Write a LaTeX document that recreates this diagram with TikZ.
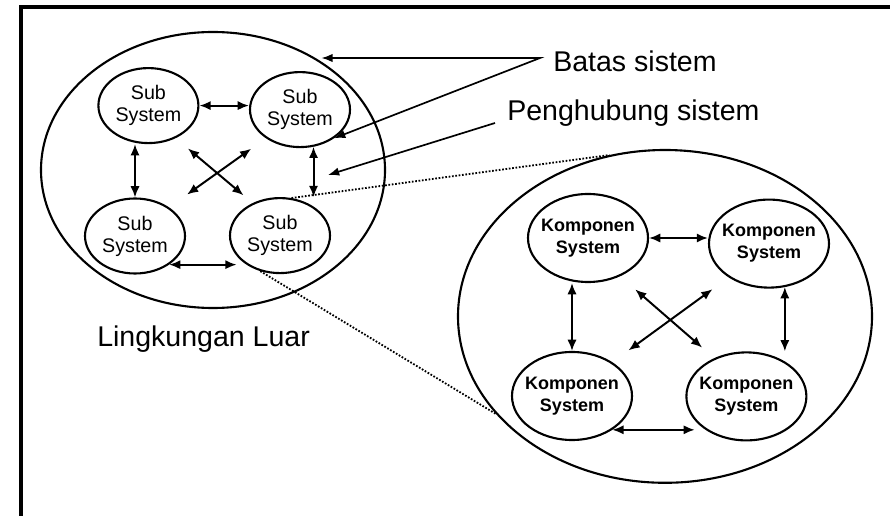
\documentclass[tikz,border=0pt]{standalone}
\usepackage{fontspec}
\setmainfont{Liberation Sans}
\usetikzlibrary{shapes.geometric, arrows.meta}

\begin{document}
\begin{tikzpicture}
  \tikzset{boundary/.style={ellipse, draw, line width=1.5pt, inner sep=0pt}}
  \tikzset{sub/.style={ellipse, draw, line width=1.5pt, minimum width=2.5cm, minimum height=1.875cm, inner sep=0pt, align=center, font=\fontsize{14}{15.6}\selectfont}}
  \tikzset{komp/.style={ellipse, draw, line width=1.5pt, minimum width=3.0cm, minimum height=2.2cm, inner xsep=-3.5pt, inner ysep=0pt, align=center, font=\fontsize{12.8}{15.6}\selectfont\bfseries}}
  \tikzset{ltip/.tip={Latex[length=2.8mm,width=2.3mm]}}
  \tikzset{ptip/.tip={Latex[length=2.8mm,width=2.1mm]}}
  \tikzset{link/.style={ltip-ltip, line width=1.4pt}}
  \tikzset{pointer/.style={line width=1.2pt}}
  \tikzset{zoomline/.style={dash pattern=on 1.2pt off 1.2pt, line width=1.3pt}}
  \tikzset{note/.style={font=\fontsize{20.3}{24}\selectfont, inner sep=0pt}}

  \useasboundingbox (0,0) rectangle (22.25,12.9);
  \clip (0,0) rectangle (22.25,12.9);
  \draw[line width=2.3pt] (0.525,-1) -- (0.525,12.725) -- (23,12.725);

  \node[boundary, minimum width=8.6cm, minimum height=6.9cm] (Sys) at (5.325,8.65) {};
  \node[sub] (Stl) at (3.71,10.26) {Sub\\System};
  \node[sub] (Str) at (7.5,10.16) {Sub\\System};
  \node[sub] (Sbl) at (3.375,7.0) {Sub\\System};
  \node[sub] (Sbr) at (7.0,7.01) {Sub\\System};

  \draw[link] (Stl.east) -- (Stl.east -| Str.west);
  \draw[link] (Sbl.north |- Stl.south) -- (Sbl.north);
  \draw[link] (Str.-70) -- (Str.-70 |- Sbr.north);
  \draw[link] (Sbl.-40) -- (Sbl.-40 -| Sbr.-155);
  \draw[link, shorten <=0.4cm, shorten >=0.3cm] (Stl.-50) -- (Sbr.130);
  \draw[link, shorten <=0.45cm, shorten >=0.55cm] (Str.-140) -- (Sbl.40);

  \node[boundary, minimum width=10.35cm, minimum height=8.32cm] (Komp) at (16.625,4.99) {};
  \node[komp] (Ktl) at (14.7,6.95) {Komponen\\System};
  \node[komp] (Ktr) at (19.225,6.81) {Komponen\\System};
  \node[komp] (Kbl) at (14.3,3.0) {Komponen\\System};
  \node[komp] (Kbr) at (18.66,2.99) {Komponen\\System};

  \draw[link] (Ktl.east) -- (Ktl.east -| Ktr.west);
  \draw[link] (Kbl.north |- Ktl.south) -- (Kbl.north);
  \draw[link] (Ktr.-70) -- (Ktr.-70 |- Kbr.north);
  \draw[link] (Kbl.-40) -- (Kbl.-40 -| Kbr.-155);
  \draw[link, shorten <=0.5cm, shorten >=0.4cm] (Ktl.-50) -- (Kbr.130);
  \draw[link, shorten <=0.5cm, shorten >=0.5cm] (Ktr.-140) -- (Kbl.40);

  \node[note, anchor=base west] (batas) at (13.825,11.11) {Batas sistem};
  \node[note, anchor=base west] (hubung) at (12.675,9.875) {Penghubung sistem};
  \node[note, anchor=base] (luar) at (5.09,4.24) {Lingkungan Luar};

  \coordinate (bj) at (13.5,11.45);
  \coordinate (hj) at (12.375,9.825);
  \coordinate (gap) at (8.2,8.525);

  \draw[pointer, ptip-ptip] (Sys.45 |- bj) -- (bj) -- (Str.-40);
  \draw[pointer, -ptip] (hj) -- (gap);

  \draw[zoomline] (Sbr.73) -- (Komp.109);
  \draw[zoomline] (Sbr.-119) -- (Komp.-150);
\end{tikzpicture}
\end{document}
